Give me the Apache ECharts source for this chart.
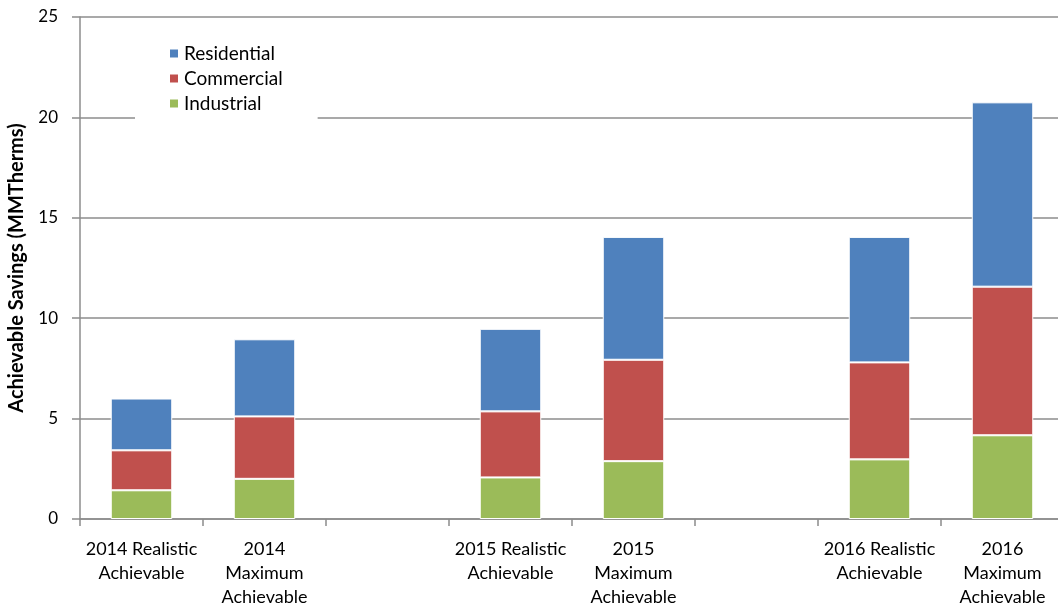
<!DOCTYPE html>
<html>
<head>
<meta charset="utf-8">
<script src="https://cdn.jsdelivr.net/npm/echarts@6/dist/echarts.min.js"></script>
<style>
  html, body { margin: 0; padding: 0; background: #fff; }
  #chart { width: 1058px; height: 613px; }
</style>
</head>
<body>
<div id="chart"></div>
<script>
// categories (empty ones are the gaps between years)
let categories = [
    '2014 Realistic\nAchievable', '2014\nMaximum\nAchievable', '',
    '2015 Realistic\nAchievable', '2015\nMaximum\nAchievable', '',
    '2016 Realistic\nAchievable', '2016\nMaximum\nAchievable'
];
let industrial  = [1.43, 2.00, null, 2.07, 2.88, null, 2.97, 4.17];
let commercial  = [1.99, 3.11, null, 3.29, 5.05, null, 4.83, 7.40];
let residential = [2.58, 3.84, null, 4.11, 6.12, null, 6.25, 9.18];
let yTicks = [0, 5, 10, 15, 20, 25];

let font = 'Lato, "Open Sans", sans-serif';
let myChart = echarts.init(document.getElementById('chart'));

function barSeries(name, data, color) {
    return {
        name: name,
        type: 'bar',
        stack: 'total',
        data: data,
        barWidth: '50%',
        animation: false,
        itemStyle: {
            color: color,
            borderColor: '#fff',
            borderWidth: 1
        }
    };
}

let option = {
    backgroundColor: '#fff',
    textStyle: { fontFamily: font },
    grid: {
        left: 80,
        top: 17,
        width: 984,
        height: 502,
        outerBoundsMode: 'none'
    },
    legend: {
        left: 135,
        top: 30,
        orient: 'vertical',
        backgroundColor: '#fff',
        padding: [14, 35, 8, 33],
        itemWidth: 10,
        itemHeight: 10,
        itemGap: 6,
        icon: 'rect',
        data: ['Residential', 'Commercial', 'Industrial'],
        textStyle: { fontSize: 19, color: '#000', fontFamily: font }
    },
    xAxis: {
        type: 'category',
        data: categories,
        axisLine: { lineStyle: { color: '#8c8c8c', width: 1.5 } },
        axisTick: { show: true, length: 7, lineStyle: { color: '#8c8c8c', width: 1.5 } },
        axisLabel: {
            interval: 0,
            fontSize: 18,
            lineHeight: 24,
            color: '#000',
            margin: 18,
            fontFamily: font
        }
    },
    yAxis: {
        type: 'value',
        min: yTicks[0],
        max: yTicks[yTicks.length - 1],
        interval: 5,
        name: 'Achievable Savings (MMTherms)',
        nameLocation: 'middle',
        nameGap: 53,
        nameTextStyle: { fontSize: 20, fontWeight: 'bold', color: '#000', fontFamily: font },
        axisLine: { show: true, lineStyle: { color: '#8c8c8c', width: 1.5 } },
        axisTick: { show: true, length: 8, lineStyle: { color: '#8c8c8c', width: 1.5 } },
        axisLabel: { fontSize: 17, color: '#000', margin: 22, fontFamily: font },
        splitLine: { lineStyle: { color: '#8c8c8c', width: 1.5 } }
    },
    series: [
        barSeries('Industrial', industrial, '#9BBB59'),
        barSeries('Commercial', commercial, '#C0504D'),
        barSeries('Residential', residential, '#4F81BD')
    ]
};
myChart.setOption(option);
</script>
</body>
</html>
